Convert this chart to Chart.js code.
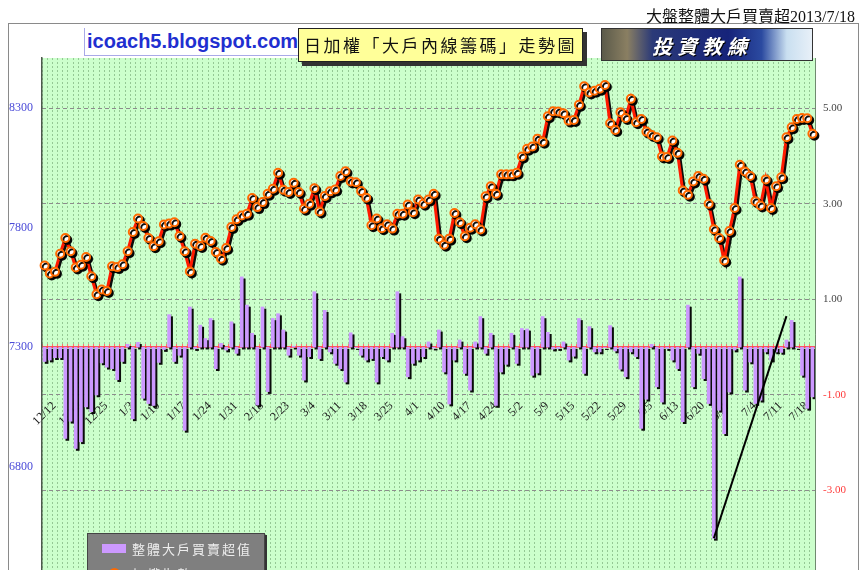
<!DOCTYPE html>
<html>
<head>
<meta charset="utf-8">
<script src="https://cdn.jsdelivr.net/npm/chart.js@4.4.1/dist/chart.umd.min.js"></script>
<style>
    html, body { margin: 0; padding: 0; background: #fff; overflow: hidden; }
    #wrap { position: relative; width: 863px; height: 570px; overflow: hidden; }
    #chart { position: absolute; left: 0; top: 0; }
    .frame { position: absolute; left: 8px; top: 23px; width: 849px; height: 600px; border: 1px solid #8a8a8a; border-bottom: none; }
    .title { position: absolute; right: 8px; top: 3px; font: 16px "Liberation Serif", "Noto Sans CJK TC", serif; color: #111; }
    .site { position: absolute; left: 84px; top: 28px; width: 216px; height: 28px; background: #fff; border-left: 1px solid #a9a9e8; border-bottom: 1px solid #a9a9e8; box-sizing: border-box; padding-left: 2px; font: bold 20px "Liberation Sans", sans-serif; line-height: 27px; color: #1f2fd0; }
    .headline { position: absolute; left: 298px; top: 28px; width: 285px; height: 34px; box-sizing: border-box; background: #ffff99; border: 1px solid #222; box-shadow: 4px 4px 0 #333; font: 17px "Noto Sans CJK TC", sans-serif; letter-spacing: 2.5px; line-height: 32px; text-align: center; color: #111; }
    .logo { position: absolute; left: 601px; top: 28px; width: 212px; height: 33px; box-sizing: border-box; border: 1px solid #333; background: linear-gradient(90deg, #5b5a4a 0%, #8a7f62 12%, #2b3a78 24%, #16237a 60%, #2b4aa0 76%, #c9dff0 88%, #e8f0f8 100%); }
    .logo span { position: absolute; left: 50px; top: 2px; font: bold italic 20px "Noto Sans CJK TC", sans-serif; letter-spacing: 5px; color: #fff; text-shadow: 1px 1px 0 #000; }
    .legend { position: absolute; left: 87px; top: 533px; width: 176px; height: 70px; background: #7f7f7f; border: 1px solid #444; box-shadow: 2px 2px 0 #333; }
    .legend .row { position: absolute; left: 14px; display: flex; align-items: center; font: 13px "Noto Sans CJK TC", sans-serif; letter-spacing: 2px; color: #eee; }
    .legend .sw { width: 24px; height: 9px; background: #cc99ff; margin-right: 6px; }
    .legend .ln { position: relative; width: 24px; height: 3px; background: #ff1a00; margin-right: 6px; }
    .legend .ln::after { content: ''; position: absolute; left: 7px; top: -4px; width: 7px; height: 7px; border-radius: 50%; background: #fff; border: 2px solid #ff6a00; }
</style>
</head>
<body>
<div id="wrap">
    <canvas id="chart" width="863" height="640"></canvas>
    <div class="frame"></div>
    <div class="title">大盤整體大戶買賣超2013/7/18</div>
    <div class="site">icoach5.blogspot.com</div>
    <div class="headline">日加權「大戶內線籌碼」走勢圖</div>
    <div class="logo"><span>投資教練</span></div>
    <div class="legend">
        <div class="row" style="top: 5px;"><div class="sw"></div>整體大戶買賣超值</div>
        <div class="row" style="top: 30px;"><div class="ln"></div>加權指數</div>
    </div>
</div>
<script>
const tickLabels = ['12/12', '12/18', '12/25', '1/3', '1/10', '1/17', '1/24', '1/31', '2/18', '2/23',
    '3/4', '3/11', '3/18', '3/25', '4/1', '4/10', '4/17', '4/24', '5/2', '5/9',
    '5/15', '5/22', '5/29', '6/5', '6/13', '6/20', '6/27', '7/4', '7/11', '7/18'];
const firstLabelAt = 3;
const labelEvery = 5;

// TAIEX close (left axis)
const indexValues = [7642, 7608, 7615, 7691, 7757, 7701, 7633, 7645, 7677, 7597,
    7521, 7541, 7535, 7638, 7635, 7647, 7701, 7782, 7838, 7807,
    7757, 7722, 7743, 7813, 7817, 7823, 7765, 7701, 7617, 7733,
    7723, 7758, 7744, 7698, 7670, 7715, 7803, 7835, 7851, 7858,
    7924, 7886, 7907, 7942, 7963, 8030, 7959, 7949, 7988, 7949,
    7879, 7900, 7965, 7868, 7932, 7952, 7960, 8016, 8036, 7993,
    7990, 7953, 7925, 7810, 7838, 7798, 7814, 7796, 7858, 7858,
    7897, 7865, 7918, 7900, 7918, 7942, 7754, 7729, 7754, 7861,
    7823, 7764, 7800, 7814, 7792, 7931, 7973, 7942, 8023, 8023,
    8023, 8030, 8098, 8130, 8140, 8172, 8160, 8266, 8287, 8286,
    8279, 8248, 8251, 8314, 8392, 8366, 8373, 8381, 8397, 8237,
    8209, 8283, 8259, 8339, 8241, 8255, 8202, 8188, 8178, 8098,
    8096, 8165, 8113, 7956, 7938, 7993, 8016, 8005, 7900, 7793,
    7757, 7663, 7786, 7882, 8063, 8035, 8016, 7911, 7893, 8002,
    7882, 7973, 8011, 8178, 8220, 8255, 8259, 8258, 8193];

// big player net buy/sell (right axis)
const bigPlayerNet = [-0.30, -0.27, -0.22, -0.22, -1.91, -1.55, -2.12, -1.98, -1.25, -1.35,
    -1.00, -0.33, -0.42, -0.45, -0.68, -0.30, 0.06, -1.50, 0.10, -1.07,
    -1.18, -1.22, -0.32, -0.05, 0.68, -0.30, -0.17, -1.74, 0.84, -0.03,
    0.46, 0.18, 0.60, -0.45, 0.08, -0.06, 0.53, -0.13, 1.47, 0.88,
    0.29, -1.21, 0.84, -0.93, 0.60, 0.70, 0.36, -0.17, 0.02, -0.17,
    -0.69, -0.20, 1.16, -0.24, 0.77, -0.10, -0.34, -0.45, -0.73, 0.30,
    -0.01, -0.17, -0.27, -0.24, -0.73, -0.20, -0.27, 0.29, 1.16, 0.22,
    -0.62, -0.34, -0.27, -0.20, 0.11, -0.02, 0.36, -0.52, -1.19, -0.27,
    0.15, -0.55, -0.90, 0.11, 0.64, -0.13, 0.29, -1.22, -0.52, -0.36,
    0.29, -0.34, 0.39, 0.38, -0.59, -0.54, 0.64, 0.31, -0.04, -0.03,
    0.11, -0.27, -0.19, 0.60, -0.55, 0.43, -0.10, -0.10, -0.01, 0.45,
    -0.08, -0.46, -0.62, -0.10, -0.20, -1.70, -1.09, 0.06, -0.83, -1.15,
    -0.03, -0.27, -0.45, -1.56, 0.88, -0.83, -0.13, -0.66, -1.18, -4.00,
    -1.32, -1.81, -0.94, -0.06, 1.47, -0.90, -0.31, -1.18, -1.11, -0.10,
    -0.27, -0.10, -0.11, 0.15, 0.56, -0.01, -0.59, -1.28, -1.04];

// hand drawn trend line
const trendIndex = [129, 143];
const trendValues = [-4.0, 0.65];

const leftTicks = [6300, 6800, 7300, 7800, 8300];
const rightTicks = [-5, -3, -1, 1, 3, 5];

document.addEventListener('DOMContentLoaded', function () {
    Chart.defaults.font.family = '"Liberation Serif", "Times New Roman", serif';

    const categories = indexValues.map((_, i) => i);
    const trendData = indexValues.map(() => null);
    trendIndex.forEach((idx, k) => { trendData[idx] = trendValues[k]; });

    const plotBg = {
        id: 'plotBg',
        beforeDraw(chart) {
            const { ctx, chartArea: a } = chart;
            ctx.save();
            ctx.fillStyle = '#ccffcc';
            ctx.fillRect(a.left, a.top, a.right - a.left, a.bottom - a.top);
            ctx.restore();
        }
    };

    const shadow = {
        id: 'shadow',
        beforeDatasetDraw(chart, args) {
            if (!chart.data.datasets[args.index].shadow) return;
            const ctx = chart.ctx;
            ctx.save();
            ctx.shadowColor = 'rgba(0,0,0,0.95)';
            ctx.shadowOffsetX = 2;
            ctx.shadowOffsetY = 2;
            ctx.shadowBlur = 0;
        },
        afterDatasetDraw(chart, args) {
            if (chart.data.datasets[args.index].shadow) chart.ctx.restore();
        }
    };

    new Chart(document.getElementById('chart'), {
        type: 'bar',
        data: {
            labels: categories,
            datasets: [{
                type: 'line',
                data: trendData,
                yAxisID: 'y1',
                borderColor: '#000',
                borderWidth: 2,
                pointRadius: 0,
                spanGaps: true,
                order: 1
            }, {
                type: 'line',
                data: indexValues,
                yAxisID: 'y',
                borderColor: '#ff1a00',
                borderWidth: 3,
                pointRadius: 4,
                pointBackgroundColor: '#fff',
                pointBorderColor: '#ff6a00',
                pointBorderWidth: 2,
                tension: 0,
                shadow: true,
                order: 2
            }, {
                type: 'bar',
                data: bigPlayerNet,
                yAxisID: 'y1',
                backgroundColor: '#cc99ff',
                barThickness: 3,
                shadow: true,
                order: 3
            }]
        },
        options: {
            responsive: false,
            animation: false,
            devicePixelRatio: 1,
            layout: { padding: { top: 58, bottom: 30, left: 0, right: 0 } },
            plugins: { legend: { display: false }, tooltip: { enabled: false } },
            scales: {
                x: {
                    type: 'category',
                    position: { y: 7100 },
                    offset: true,
                    grid: { offset: true, color: '#94c894', lineWidth: 1, drawTicks: false },
                    border: { display: false, dash: [2, 2] },
                    ticks: {
                        autoSkip: false,
                        minRotation: 45,
                        maxRotation: 45,
                        padding: 4,
                        labelOffset: -6,
                        color: '#222',
                        font: { size: 12 },
                        callback: (v, i) => (i >= firstLabelAt && (i - firstLabelAt) % labelEvery === 0)
                            ? tickLabels[(i - firstLabelAt) / labelEvery] : ''
                    },
                    afterFit: (s) => { s.paddingLeft = 0; s.paddingRight = 0; }
                },
                x2: {
                    type: 'category',
                    position: { y: 7300 },
                    offset: true,
                    z: 1,
                    grid: { offset: true, drawOnChartArea: false, drawTicks: true, tickLength: -4, color: '#ff7070' },
                    border: { display: true, color: '#ff4a4a', width: 2 },
                    ticks: { display: false },
                    afterFit: (s) => { s.paddingLeft = 0; s.paddingRight = 0; }
                },
                y: {
                    position: 'left',
                    min: 6200,
                    max: 8510,
                    afterBuildTicks: (s) => { s.ticks = leftTicks.map(v => ({ value: v })); },
                    afterFit: (s) => { s.width = 42; },
                    grid: { display: false, drawTicks: false },
                    border: { display: true, color: '#4d5a4d', width: 1.5 },
                    ticks: { color: '#4a4ad8', font: { size: 12 }, padding: 9, callback: (v) => String(v) }
                },
                y1: {
                    position: 'right',
                    min: -5.5,
                    max: 6.05,
                    afterBuildTicks: (s) => { s.ticks = rightTicks.map(v => ({ value: v })); },
                    afterFit: (s) => { s.width = 48; },
                    grid: { color: '#8c8c8c', lineWidth: 1, drawTicks: false },
                    border: { display: true, color: '#6f8a6f', width: 1, dash: [4, 3] },
                    ticks: {
                        padding: 8,
                        font: { size: 11 },
                        color: (ctx) => (ctx.tick && ctx.tick.value < 0) ? '#ff3b3b' : '#444',
                        callback: (v) => Number(v).toFixed(2)
                    }
                }
            }
        },
        plugins: [plotBg, shadow]
    });
});
</script>
</body>
</html>
